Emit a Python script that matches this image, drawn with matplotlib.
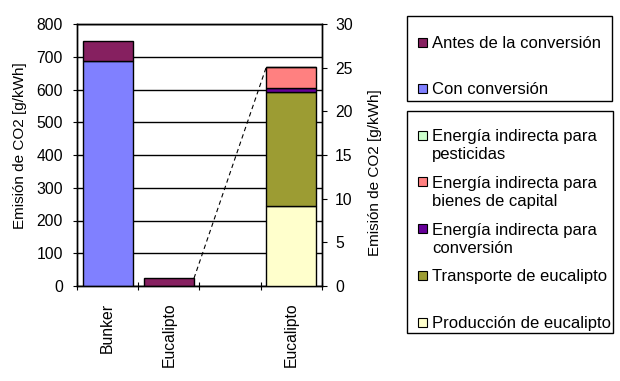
import matplotlib
matplotlib.use('Agg')
import matplotlib.pyplot as plt
from matplotlib.patches import Rectangle

plt.rcParams['font.family'] = ['Liberation Sans', 'DejaVu Sans']
plt.rcParams['font.size'] = 11

# datos (eje izquierdo, g/kWh)
categorias = ['Bunker', 'Eucalipto', '', 'Eucalipto']
con_conversion = [688, 0]
antes_conversion = [59, 23.5]

# datos (eje derecho, g/kWh) - barra apilada de eucalipto
produccion = 9.13
transporte = 13.05
energia_conversion = 0.46
bienes_capital = 2.4
pesticidas = 0.02

col_antes = '#862060'
col_con = '#8080FF'
col_pest = '#CCFFCC'
col_bienes = '#FF8080'
col_conv = '#660099'
col_transp = '#9C9C33'
col_prod = '#FFFFCC'

leyenda1 = [('Antes de la conversión', col_antes), ('Con conversión', col_con)]
leyenda2 = [('Energía indirecta para\npesticidas', col_pest),
            ('Energía indirecta para\nbienes de capital', col_bienes),
            ('Energía indirecta para\nconversión', col_conv),
            ('Transporte de eucalipto', col_transp),
            ('Producción de eucalipto', col_prod)]

W, H = 620, 381
fig = plt.figure(figsize=(6.2, 3.81), dpi=100)
ax = fig.add_axes([77/W, 1-286/H, 245/W, 262/H])
ax2 = ax.twinx()

ancho = 0.82
xs = [0.5, 1.5]
ax.bar(xs, con_conversion, ancho, color=col_con, edgecolor='black', linewidth=1, zorder=3)
ax.bar(xs, antes_conversion, ancho, bottom=con_conversion, color=col_antes,
       edgecolor='black', linewidth=1, zorder=3)

x3 = 3.5
capas = [(produccion, col_prod), (transporte, col_transp), (energia_conversion, col_conv),
         (bienes_capital, col_bienes), (pesticidas, col_pest)]
base = 0
for v, c in capas:
    ax2.bar(x3, v, ancho, bottom=base, color=c, edgecolor='black', linewidth=1, zorder=3)
    base += v

ax.set_xlim(0, 4)
ax.set_ylim(0, 800)
ax2.set_ylim(0, 30)
ax.set_yticks(range(0, 801, 100))
ax2.set_yticks(range(0, 31, 5))
ax.yaxis.grid(True, color='black', linewidth=1)
ax.set_axisbelow(True)

# linea de serie (discontinua)
total_der = base * 800 / 30
ax.plot([1.5 + ancho/2, x3 - ancho/2],
        [con_conversion[1] + antes_conversion[1], total_der],
        color='black', linestyle=(0, (4, 3)), linewidth=0.8, zorder=4)

ax.set_xticks([0, 1, 2, 3, 4])
ax.set_xticklabels([])
ax.set_xticks([0.5, 1.5, 2.5, 3.5], minor=True)
ax.set_xticklabels(categorias, minor=True, rotation=90, va='top')
ax.tick_params(axis='x', which='major', direction='inout', length=6)
ax.tick_params(axis='x', which='minor', length=0, pad=12, labelsize=11.3)
ax.tick_params(axis='y', direction='out', length=3, pad=7, labelsize=11.3)
ax2.tick_params(axis='y', direction='out', length=3.5, pad=6, labelsize=11.3)

for a in (ax, ax2):
    for s in a.spines.values():
        s.set_color('black')
        s.set_linewidth(1)

ax.set_ylabel('Emisión de CO2 [g/kWh]', fontsize=11)
ax.yaxis.set_label_coords(-0.204, 0.534)
ax2.set_ylabel('Emisión de CO2 [g/kWh]', fontsize=11)
ax2.yaxis.set_label_coords(1.188, 0.431)

# leyendas (coordenadas en pixeles)
lg = fig.add_axes([0, 0, 1, 1])
lg.set_xlim(0, W)
lg.set_ylim(H, 0)
lg.axis('off')

def caja(x0, y0, x1, y1, items, y_first, paso):
    lg.add_patch(Rectangle((x0, y0), x1 - x0, y1 - y0, fill=False, edgecolor='black', linewidth=1))
    y = y_first
    for txt, c in items:
        lg.add_patch(Rectangle((418, y - 4.5), 9, 9, facecolor=c, edgecolor='black', linewidth=0.8))
        for i, linea in enumerate(txt.split('\n')):
            lg.text(432, y + 6 + i * 18.5, linea, va='baseline', ha='left', fontsize=12)
        y += paso

caja(407, 16, 612, 101, leyenda1, 42, 46)
caja(407, 111, 613, 333, leyenda2, 135, 46.8)

fig.savefig('out.png', dpi=100)
